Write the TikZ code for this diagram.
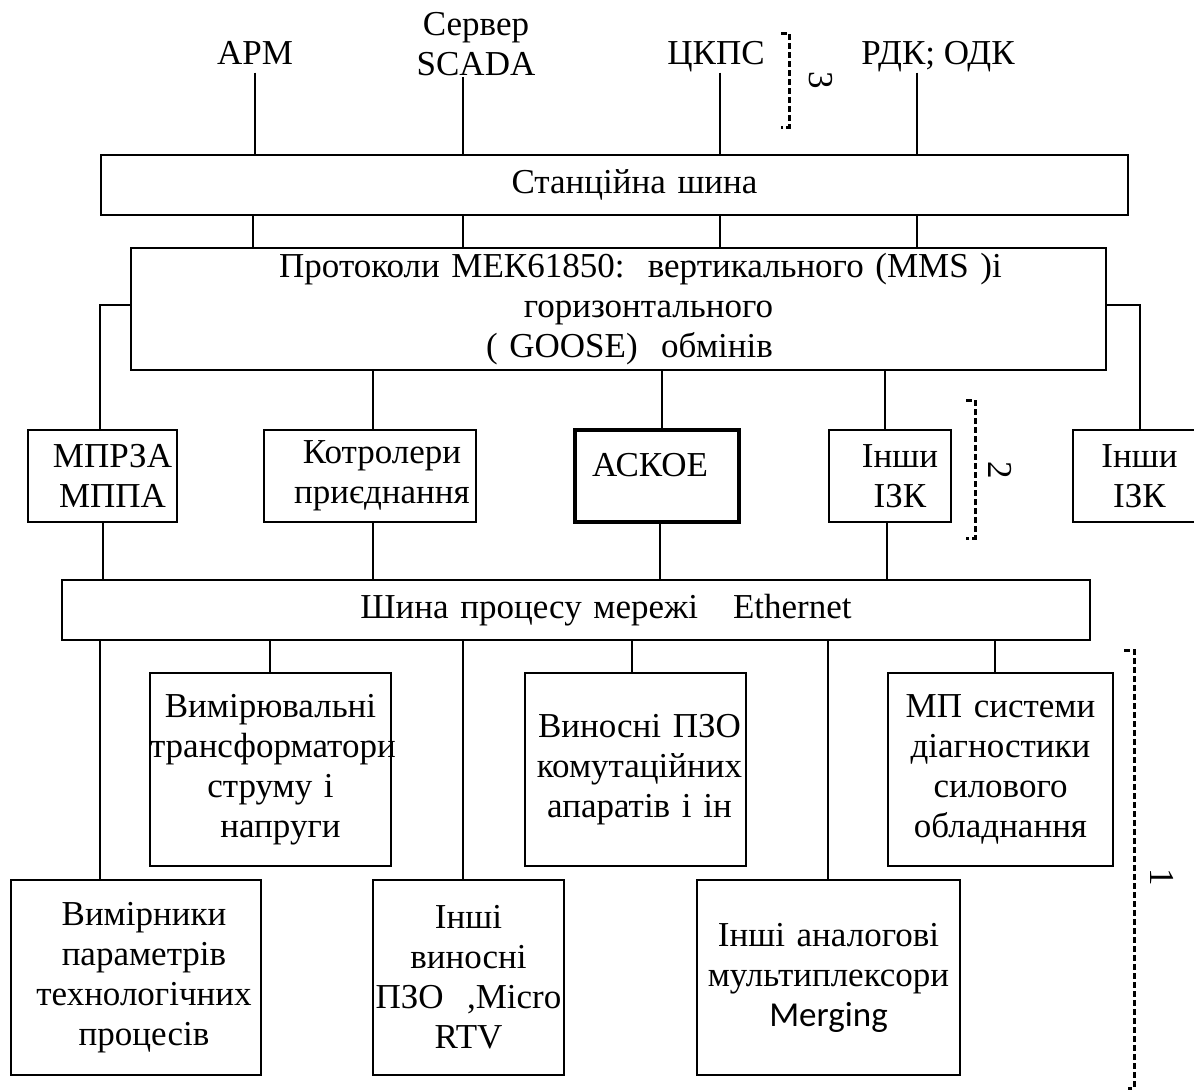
\documentclass[tikz,border=0pt]{standalone}
\usepackage{fontspec}
\setmainfont{Liberation Serif}
\newfontfamily\calfont{Carlito}
\newcommand{\fsz}{\fontsize{35}{40}\selectfont}
\begin{document}
\begin{tikzpicture}[x=1pt, y=-1pt, line width=2.2pt,
	blok/.style={draw, inner sep=0pt, align=center, font=\fsz},
	mitka/.style={font=\fsz, inner sep=0pt, text height=24pt, text depth=7pt},
	rivn/.style={line width=3pt, dash pattern=on 6pt off 3pt},
	nomer/.style={font=\fsz, rotate=-90, inner sep=0pt}]
	\useasboundingbox (0,0) rectangle (1194,1090);
	% top level
	\node[mitka] (arm) at (255,56) {АРМ};
	\node[font=\fsz, inner sep=0pt, align=center, anchor=south] (scada) at (476,77) {Сервер\\SCADA};
	\node[mitka] (ckps) at (716,56) {ЦКПС};
	\node[mitka] (rdk) at (938,56) {РДК; ОДК};
	\node[blok, text width=1027pt, minimum height=60pt] (stbus) at (614.5,185) {\hspace*{40pt}Станційна шина};
	\node[blok, text width=975pt, minimum height=122pt] (prot) at (618.5,309) {\hspace*{44pt}Протоколи МЕК61850:\ \ вертикального (MMS )і\\\hspace*{60pt}горизонтального\\\hspace*{22pt}( GOOSE)\ \ обмінів};
	\draw (arm.south) -- (arm.south |- stbus.north);
	\draw (463,0 |- scada.south) -- (463,0 |- stbus.north);
	\draw (720,0 |- ckps.south) -- (720,0 |- stbus.north);
	\draw (917,0 |- rdk.south) -- (917,0 |- stbus.north);
	\foreach \xx in {253,463,720,917} \draw (\xx,0 |- stbus.south) -- (\xx,0 |- prot.north);
	% level 2
	\node[blok, text width=149pt, minimum height=92pt] (mprza) at (102.5,476) {\hspace*{20pt}МПРЗА\\\hspace*{20pt}МППА};
	\node[blok, text width=212pt, minimum height=92pt] (kontr) at (370,476) {\hspace*{24pt}Котролери\\\hspace*{24pt}приєднання};
	\node[blok, line width=3.4pt, text width=164pt, minimum height=92pt, text depth=22pt] (askoe) at (657,476) {\hspace*{-14pt}АСКОЕ};
	\node[blok, text width=122pt, minimum height=92pt] (izk1) at (890,476) {\hspace*{20pt}Інши\\\hspace*{20pt}ІЗК};
	\node[blok, text width=137pt, minimum height=92pt] (izk2) at (1141.5,476) {\hspace*{-4pt}Інши\\\hspace*{-4pt}ІЗК};
	\draw (prot.west |- 0,305) -| (100,0 |- mprza.north);
	\draw (prot.east |- 0,305) -| (1140,0 |- izk2.north);
	\foreach \xx/\nd in {373/kontr,662/askoe,885/izk1} \draw (\xx,0 |- prot.south) -- (\xx,0 |- \nd.north);
	\node[blok, text width=1028pt, minimum height=60pt] (ebus) at (576,610) {\hspace*{60pt}Шина процесу мережі\ \ \ Ethernet};
	\foreach \xx/\nd in {103/mprza,373/kontr,660/askoe,887/izk1} \draw (\xx,0 |- \nd.south) -- (\xx,0 |- ebus.north);
	% level 1
	\node[blok, text width=241pt, minimum height=193pt] (vymtr) at (270.5,769.5) {Вимірювальні\\трансформатори\\струму і\\\hspace*{20pt}напруги};
	\node[blok, text width=221pt, minimum height=193pt] (vynpzo) at (635.5,769.5) {\hspace*{8pt}Виносні ПЗО\\\hspace*{8pt}комутаційних\\\hspace*{8pt}апаратів і ін};
	\node[blok, text width=225pt, minimum height=193pt] (mpdiag) at (1000.5,769.5) {МП системи\\діагностики\\силового\\обладнання};
	\node[blok, text width=250pt, minimum height=195pt] (vymirn) at (136,977.5) {\hspace*{16pt}Вимірники\\\hspace*{16pt}параметрів\\\hspace*{16pt}технологічних\\\hspace*{16pt}процесів};
	\node[blok, text width=191pt, minimum height=195pt] (inshi) at (468.5,977.5) {Інші\\виносні\\ПЗО\ \ ,Micro\\RTV};
	\node[blok, text width=263pt, minimum height=195pt] (analog) at (828.5,977.5) {Інші аналогові\\мультиплексори\\{\calfont Merging}};
	\foreach \xx/\nd in {100/vymirn,270/vymtr,463/inshi,632/vynpzo,828/analog,995/mpdiag} \draw (\xx,0 |- ebus.south) -- (\xx,0 |- \nd.north);
	% levels
	\draw[rivn] (781,33) -- (789,33) -- (789,127) -- (781,127);
	\node[nomer] (n3) at (821,80) {3};
	\draw[rivn] (966,400) -- (975,400) -- (975,538) -- (966,538);
	\node[nomer] (n2) at (1000,470) {2};
	\draw[rivn] (1124,650) -- (1134,650) -- (1134,1088) -- (1128,1088);
	\node[nomer] (n1) at (1162,877) {1};
\end{tikzpicture}
\end{document}
